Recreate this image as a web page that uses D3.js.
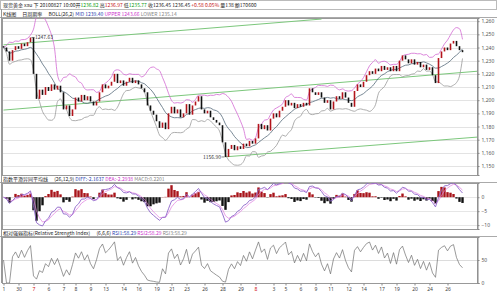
<!DOCTYPE html>
<html>
<head>
<meta charset="utf-8">
<script src="https://cdn.jsdelivr.net/npm/d3@7/dist/d3.min.js"></script>
<style>
  body { margin: 0; background: #fff; }
  svg { display: block; font-family: "Noto Sans CJK SC", "Noto Sans", sans-serif; }
</style>
</head>
<body>
<svg id="chart" width="500" height="297"></svg>
<script>
// closing prices, one bar per 3px
const closes = [
  1240, 1237, 1230, 1238, 1241, 1239, 1243, 1241, 1244, 1247.6,
  1220, 1201, 1208, 1204, 1210, 1207, 1212, 1208, 1211, 1206,
  1193, 1196, 1188, 1193, 1202, 1199, 1204, 1200, 1203, 1199,
  1196, 1199, 1206, 1212, 1209, 1211, 1214, 1220, 1213, 1215,
  1211, 1214, 1217, 1213, 1215, 1212, 1209, 1206, 1196, 1192,
  1189, 1184, 1179, 1183, 1178, 1190, 1195, 1190, 1193, 1187,
  1190, 1197, 1189, 1196, 1199, 1203, 1193, 1190, 1192, 1187,
  1185, 1183, 1181, 1168, 1156.9, 1163, 1166, 1162, 1165, 1163,
  1167, 1165, 1169, 1167, 1171, 1182, 1178, 1181, 1177, 1186,
  1190, 1187, 1192, 1195, 1200, 1196, 1198, 1194, 1197, 1195,
  1198, 1196, 1209, 1206, 1204, 1206, 1202, 1198, 1200, 1193,
  1199, 1203, 1201, 1206, 1202, 1198, 1195, 1207, 1212, 1210,
  1214, 1219, 1222, 1220, 1224, 1222, 1226, 1223, 1225, 1222,
  1226, 1222, 1230, 1234, 1231, 1228, 1231, 1227, 1229, 1225,
  1227, 1223, 1225, 1219, 1213, 1232, 1237, 1240, 1238, 1243,
  1245, 1241, 1238, 1236.45
];
const firstOpen = 1241;

const priceTicks = [1260, 1250, 1240, 1230, 1220, 1210, 1200, 1190, 1180, 1170, 1160, 1150];
const macdTicks = [0, -5, -10];
const rsiTicks = [50, 0];

const dateLabels = ["1", "30", "7", "6", "7", "8", "9", "13", "14", "16", "19", "21", "23", "26", "28",
  "29", "8", "3", "5", "6", "9", "11", "12", "14", "17", "19", "20", "24", "26"];
const dateBars = [0, 5, 10, 15, 20, 24, 29, 34, 40, 45, 51, 56, 61, 67, 73,
  79, 84, 90, 94, 99, 104, 109, 115, 120, 126, 131, 137, 142, 148];
const monthIdx = [2, 16]; // month marks drawn in red

// channel lines: [bar, price] end points
const trendUpper = [[0, 1242], [106, 1261.6]];
const trendMid = [[0, 1192.5], [158, 1222]];
const trendLow = [[74, 1157], [158, 1172]];

const extremes = [
  { bar: 9, price: 1247.63, text: "1247.63", side: "right" },
  { bar: 74, price: 1156.90, text: "1156.90", side: "left" }
];

// indicator periods (chart bars are 3x coarser than the original)
const bollN = 9, fastN = 4, slowN = 9, sigN = 3, rsiN = 3;

const svg = d3.select("#chart");
const fs = 5;

const x = d3.scaleLinear().domain([0, closes.length - 1]).range([3.5, 462.5]);
const yMain = d3.scaleLinear().domain([1143.2, 1262.4]).range([175, 18]);
const yMacd = d3.scaleLinear().domain([-11.4, 5.1]).range([229, 183]);
const yRsi = d3.scaleLinear().domain([0, 100]).range([283, 237]);

const plotL = 2, plotR = 477;

// ---- indicators ----
const boll = closes.map((c, i) => {
  const win = closes.slice(Math.max(0, i - bollN + 1), i + 1);
  const m = d3.mean(win);
  const sd = Math.sqrt(d3.mean(win, v => (v - m) * (v - m)));
  return { mid: m, up: m + 2 * sd, lo: m - 2 * sd };
});

function ema(arr, n) {
  const k = 2 / (n + 1);
  let prev = arr[0];
  return arr.map((v, i) => (prev = i === 0 ? v : v * k + prev * (1 - k)));
}
const emaF = ema(closes, fastN), emaS = ema(closes, slowN);
const diff = closes.map((c, i) => emaF[i] - emaS[i]);
const dea = ema(diff, sigN);
const hist = diff.map((d, i) => 2 * (d - dea[i]));

const rsi = [];
{
  let up = 0, all = 0;
  closes.forEach((c, i) => {
    const ch = i === 0 ? 0 : c - closes[i - 1];
    up = (Math.max(ch, 0) + (rsiN - 1) * up) / rsiN;
    all = (Math.abs(ch) + (rsiN - 1) * all) / rsiN;
    rsi.push(all === 0 ? 50 : up / all * 100);
  });
}

// ---- frames ----
const defs = svg.append("defs");
[["clipMain", 18, 175], ["clipMacd", 183, 229], ["clipRsi", 237, 283]].forEach(([id, t, b]) => {
  defs.append("clipPath").attr("id", id).append("rect")
    .attr("x", plotL).attr("y", t).attr("width", plotR - plotL).attr("height", b - t);
});

svg.append("rect").attr("x", 0.5).attr("y", 0.5).attr("width", 496).attr("height", 9)
  .attr("fill", "none").attr("stroke", "#bbb");

[[10, 18], [176, 183], [229.5, 237]].forEach(([t, b]) => {
  svg.append("line").attr("x1", 0).attr("x2", 497).attr("y1", b - 0.5).attr("y2", b - 0.5)
    .attr("stroke", "#aaa");
});
svg.append("line").attr("x1", 1.5).attr("x2", 1.5).attr("y1", 9).attr("y2", 283).attr("stroke", "#999");

// grid
svg.append("g").selectAll("line").data(priceTicks).join("line")
  .attr("x1", plotL).attr("x2", plotR)
  .attr("y1", d => Math.round(yMain(d)) + 0.5).attr("y2", d => Math.round(yMain(d)) + 0.5)
  .attr("stroke", "#e3e3e3");
svg.append("g").selectAll("line").data(macdTicks).join("line")
  .attr("x1", plotL).attr("x2", plotR)
  .attr("y1", d => Math.round(yMacd(d)) + 0.5).attr("y2", d => Math.round(yMacd(d)) + 0.5)
  .attr("stroke", "#e6e6e6");
svg.append("line").attr("x1", plotL).attr("x2", plotR)
  .attr("y1", Math.round(yRsi(50)) + 0.5).attr("y2", Math.round(yRsi(50)) + 0.5)
  .attr("stroke", "#dcdcdc");

// panel boxes
[[18, 175], [183, 229], [237, 283]].forEach(([t, b]) => {
  svg.append("rect").attr("x", plotL + 0.5).attr("y", t + 0.5)
    .attr("width", plotR - plotL).attr("height", b - t)
    .attr("fill", "none").attr("stroke", "#999");
});

// ---- main panel ----
const gMain = svg.append("g").attr("clip-path", "url(#clipMain)");

const trend = d3.line().x(d => x(d[0])).y(d => yMain(d[1]));
gMain.selectAll(".trend").data([trendUpper, trendMid, trendLow]).join("path")
  .attr("class", "trend").attr("d", trend)
  .attr("fill", "none").attr("stroke", "#7cc77c").attr("stroke-width", 1);

const bandLine = key => d3.line().curve(d3.curveMonotoneX).x((d, i) => x(i)).y(d => yMain(d[key]));
gMain.append("path").datum(boll).attr("d", bandLine("lo"))
  .attr("fill", "none").attr("stroke", "#999").attr("stroke-width", 0.8);
gMain.append("path").datum(boll).attr("d", bandLine("up"))
  .attr("fill", "none").attr("stroke", "#d36ad3").attr("stroke-width", 0.8);
gMain.append("path").datum(boll).attr("d", bandLine("mid"))
  .attr("fill", "none").attr("stroke", "#556a7a").attr("stroke-width", 0.8);

const bars = closes.map((c, i) => ({ i, o: i === 0 ? firstOpen : closes[i - 1], c }));
gMain.selectAll(".candle").data(bars).join("rect")
  .attr("class", "candle")
  .attr("x", d => x(d.i) - 0.8)
  .attr("width", 1.6)
  .attr("y", d => yMain(Math.max(d.o, d.c)))
  .attr("height", d => Math.max(1, Math.abs(yMain(d.o) - yMain(d.c))))
  .attr("fill", d => d.c >= d.o ? "#b3141c" : "#111");

extremes.forEach(e => {
  const px = x(e.bar), py = yMain(e.price);
  const dir = e.side === "right" ? 1 : -1;
  svg.append("line").attr("x1", px + dir).attr("x2", px + dir * 4)
    .attr("y1", py).attr("y2", py).attr("stroke", "#333").attr("stroke-width", 0.6);
  svg.append("text").attr("x", px + dir * 4.5).attr("y", py + 1.8)
    .attr("text-anchor", e.side === "right" ? "start" : "end")
    .attr("font-size", fs).attr("fill", "#333").text(e.text);
});

// ---- MACD panel ----
const gMacd = svg.append("g").attr("clip-path", "url(#clipMacd)");
gMacd.selectAll(".hbar").data(hist).join("rect")
  .attr("class", "hbar")
  .attr("x", (d, i) => x(i) - 1.2)
  .attr("width", 2.4)
  .attr("y", d => Math.min(yMacd(d), yMacd(0)))
  .attr("height", d => Math.abs(yMacd(d) - yMacd(0)))
  .attr("fill", d => d >= 0 ? "#a8141a" : "#111");
gMacd.append("path").datum(dea)
  .attr("d", d3.line().x((d, i) => x(i)).y(d => yMacd(d)))
  .attr("fill", "none").attr("stroke", "#e07ae0").attr("stroke-width", 0.7);
gMacd.append("path").datum(diff)
  .attr("d", d3.line().x((d, i) => x(i)).y(d => yMacd(d)))
  .attr("fill", "none").attr("stroke", "#8c63c9").attr("stroke-width", 0.9);

// ---- RSI panel ----
const gRsi = svg.append("g").attr("clip-path", "url(#clipRsi)");
gRsi.append("path").datum(rsi)
  .attr("d", d3.line().x((d, i) => x(i)).y(d => yRsi(d)))
  .attr("fill", "none").attr("stroke", "#6e6e6e").attr("stroke-width", 0.7);

// ---- axes ----
function styleAxis(g) {
  g.select(".domain").attr("stroke", "#888");
  g.selectAll(".tick line").attr("stroke", "#888");
  g.selectAll(".tick text").attr("font-size", fs).attr("fill", "#555")
    .attr("font-family", "'Noto Sans', sans-serif");
}
svg.append("g").attr("transform", `translate(${plotR + 0.5},0)`)
  .call(d3.axisRight(yMain).tickValues(priceTicks).tickSize(2).tickPadding(2))
  .call(styleAxis);
svg.append("g").attr("transform", `translate(${plotR + 0.5},0)`)
  .call(d3.axisRight(yMacd).tickValues(macdTicks).tickSize(2).tickPadding(2))
  .call(styleAxis);
svg.append("g").attr("transform", `translate(${plotR + 0.5},0)`)
  .call(d3.axisRight(yRsi).tickValues(rsiTicks).tickSize(2).tickPadding(2))
  .call(styleAxis);

const xAxis = svg.append("g").attr("transform", "translate(0,283.5)")
  .call(d3.axisBottom(x).tickValues(dateBars).tickSize(2).tickPadding(2)
    .tickFormat((d, i) => dateLabels[i]))
  .call(styleAxis);
xAxis.select(".domain").remove();
xAxis.selectAll(".tick text").attr("fill", (d, i) => monthIdx.includes(i) ? "#d01010" : "#444");

// ---- title rows ----
function row(y, parts) {
  const t = svg.append("text").attr("x", 3).attr("y", y).attr("font-size", fs);
  parts.forEach(([s, c]) => t.append("tspan").attr("fill", c).text(s));
  return t;
}
row(7, [
  ["现货黄金 xau 下 20100827 10:00开", "#222"], ["1236.82", "#0a9a0a"],
  [" 高", "#222"], ["1236.97", "#c41010"], [" 低", "#222"], ["1235.77", "#0a9a0a"],
  [" 收1236.45 1236.45 ", "#222"], ["+0.58 0.05%", "#c41010"], [" 量138 额170600", "#222"]
]);
row(15.5, [
  ["K线图 ", "#222"], ["\u2003日周期率 ", "#222"], ["\u2003BOLL(26,2) ", "#222"],
  ["MID 1239.40 ", "#2b3fb0"], ["UPPER 1243.66 ", "#cc33cc"], ["LOWER 1235.14", "#888"]
]);
row(181, [
  ["指数平滑异同平均线 ", "#222"], ["\u2003(26,12,9) ", "#222"],
  ["DIFF:-2.1637 ", "#2b3fb0"], ["DEA:-2.2938 ", "#cc33cc"], ["MACD:0.2201", "#888"]
]);
row(234.5, [
  ["相对强弱指标(Relative Strength Index) ", "#222"], ["\u2003(6,6,6) ", "#222"],
  ["RSI1:58.29 ", "#2b3fb0"], ["RSI2:58.29 ", "#cc33cc"], ["RSI3:58.29", "#888"]
]);
</script>
</body>
</html>
